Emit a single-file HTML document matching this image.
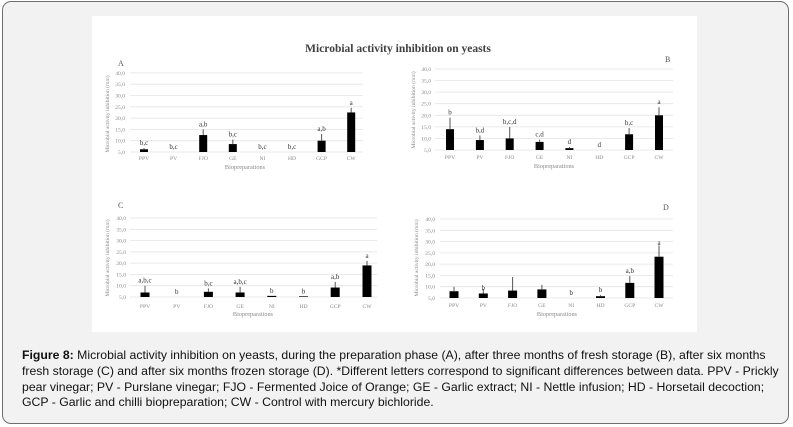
<!DOCTYPE html>
<html><head><meta charset="utf-8"><style>
html,body{margin:0;padding:0;width:793px;height:427px;overflow:hidden;background:#fff}
.frame{position:absolute;left:2px;top:1px;width:785px;height:421px;border:1.3px solid #6f6f6f;border-radius:9px;background:#f2f2f2}
.cap{position:absolute;left:22px;top:348px;font:12.25px/15.8px "Liberation Sans",Arial,sans-serif;color:#111;white-space:nowrap}
svg{position:absolute;left:0;top:0}
.t{font-family:"Liberation Serif",serif;font-size:5.6px;fill:#8a8a8a}
.l{font-family:"Liberation Serif",serif;font-size:7px;fill:#333;text-anchor:middle}
.g{stroke:#e3e3e3;stroke-width:0.8}
</style></head><body>
<div class="frame"></div>
<div class="cap"><b>Figure 8:</b> Microbial activity inhibition on yeasts, during the preparation phase (A), after three months of fresh storage (B), after six months<br>fresh storage (C) and after six months frozen storage (D). *Different letters correspond to significant differences between data. PPV - Prickly<br>pear vinegar; PV - Purslane vinegar; FJO - Fermented Joice of Orange; GE - Garlic extract; NI - Nettle infusion; HD - Horsetail decoction;<br>GCP - Garlic and chilli biopreparation; CW - Control with mercury bichloride.</div>
<svg width="793" height="427" viewBox="0 0 793 427">
<rect x="92" y="16" width="605" height="316" fill="#fff"/>
<text x="398" y="52" text-anchor="middle" font-family="Liberation Serif,serif" font-size="11.5" fill="#404040" font-weight="bold">Microbial activity inhibition on yeasts</text>

<!-- A -->
<text x="118" y="66" font-family="Liberation Serif,serif" font-size="8" fill="#555">A</text>
<g class="g"><line x1="130" x2="363" y1="152" y2="152"/><line x1="130" x2="363" y1="140.7" y2="140.7"/><line x1="130" x2="363" y1="129.4" y2="129.4"/><line x1="130" x2="363" y1="118.1" y2="118.1"/><line x1="130" x2="363" y1="106.8" y2="106.8"/><line x1="130" x2="363" y1="95.5" y2="95.5"/><line x1="130" x2="363" y1="84.2" y2="84.2"/><line x1="130" x2="363" y1="72.9" y2="72.9"/></g>
<g class="t" text-anchor="end"><text x="125" y="154">5,0</text><text x="125" y="142.7">10,0</text><text x="125" y="131.4">15,0</text><text x="125" y="120.1">20,0</text><text x="125" y="108.8">25,0</text><text x="125" y="97.5">30,0</text><text x="125" y="86.2">35,0</text><text x="125" y="74.9">40,0</text></g>
<text class="t" transform="translate(109,114) rotate(-90)" text-anchor="middle">Microbial activity inhibition (mm)</text>
<g transform="translate(0,163.3) scale(1,-2.26)" fill="#000" stroke="#555">
<rect x="140" y="5" width="8" height="1.2" stroke="none"/><line x1="144" x2="144" y1="6.2" y2="6.7" vector-effect="non-scaling-stroke"/>
<rect x="199.2" y="5" width="8" height="7.5" stroke="none"/><line x1="203.2" x2="203.2" y1="12.5" y2="15" vector-effect="non-scaling-stroke"/>
<rect x="228.8" y="5" width="8" height="3.5" stroke="none"/><line x1="232.8" x2="232.8" y1="8.5" y2="10.5" vector-effect="non-scaling-stroke"/>
<rect x="317.6" y="5" width="8" height="5" stroke="none"/><line x1="321.6" x2="321.6" y1="10" y2="13" vector-effect="non-scaling-stroke"/>
<rect x="347.2" y="5" width="8" height="17.5" stroke="none"/><line x1="351.2" x2="351.2" y1="22.5" y2="24.5" vector-effect="non-scaling-stroke"/>
</g>
<g class="l"><text x="144" y="145.2">b,c</text><text x="173.6" y="149">b,c</text><text x="203.2" y="126.4">a,b</text><text x="232.8" y="136.6">b,c</text><text x="262.4" y="149">b,c</text><text x="292" y="149">b,c</text><text x="321.6" y="130.9">a,b</text><text x="351.2" y="104.9">a</text></g>
<g class="t" text-anchor="middle"><text x="144" y="160">PPV</text><text x="173.6" y="160">PV</text><text x="203.2" y="160">FJO</text><text x="232.8" y="160">GE</text><text x="262.4" y="160">NI</text><text x="292" y="160">HD</text><text x="321.6" y="160">GCP</text><text x="351.2" y="160">CW</text><text x="245" y="169" font-size="6.3">Biopreparations</text></g>

<!-- B -->
<text x="665" y="62" font-family="Liberation Serif,serif" font-size="8" fill="#555">B</text>
<g class="g"><line x1="435" x2="673" y1="150" y2="150"/><line x1="435" x2="673" y1="138.4" y2="138.4"/><line x1="435" x2="673" y1="126.9" y2="126.9"/><line x1="435" x2="673" y1="115.3" y2="115.3"/><line x1="435" x2="673" y1="103.7" y2="103.7"/><line x1="435" x2="673" y1="92.1" y2="92.1"/><line x1="435" x2="673" y1="80.6" y2="80.6"/><line x1="435" x2="673" y1="69" y2="69"/></g>
<g class="t" text-anchor="end"><text x="431" y="152">5,0</text><text x="431" y="140.4">10,0</text><text x="431" y="128.9">15,0</text><text x="431" y="117.3">20,0</text><text x="431" y="105.7">25,0</text><text x="431" y="94.1">30,0</text><text x="431" y="82.6">35,0</text><text x="431" y="71">40,0</text></g>
<text class="t" transform="translate(415,110) rotate(-90)" text-anchor="middle">Microbial activity inhibition (mm)</text>
<g transform="translate(0,161.57) scale(1,-2.314)" fill="#000" stroke="#555">
<rect x="446" y="5" width="8" height="9" stroke="none"/><line x1="450" x2="450" y1="14" y2="19" vector-effect="non-scaling-stroke"/>
<rect x="475.9" y="5" width="8" height="4.3" stroke="none"/><line x1="479.9" x2="479.9" y1="9.3" y2="11.3" vector-effect="non-scaling-stroke"/>
<rect x="505.7" y="5" width="8" height="5" stroke="none"/><line x1="509.7" x2="509.7" y1="10" y2="15" vector-effect="non-scaling-stroke"/>
<rect x="535.6" y="5" width="8" height="3.5" stroke="none"/><line x1="539.6" x2="539.6" y1="8.5" y2="9.5" vector-effect="non-scaling-stroke"/>
<rect x="565.4" y="5" width="8" height="0.8" stroke="none"/><line x1="569.4" x2="569.4" y1="5.8" y2="6.3" vector-effect="non-scaling-stroke"/>
<rect x="625.1" y="5" width="8" height="6.8" stroke="none"/><line x1="629.1" x2="629.1" y1="11.8" y2="14.5" vector-effect="non-scaling-stroke"/>
<rect x="655" y="5" width="8" height="15" stroke="none"/><line x1="659" x2="659" y1="20" y2="23.5" vector-effect="non-scaling-stroke"/>
</g>
<g class="l"><text x="450" y="114.6">b</text><text x="479.9" y="132.4">b,d</text><text x="509.7" y="123.9">b,c,d</text><text x="539.6" y="136.6">c,d</text><text x="569.4" y="144">d</text><text x="599.3" y="147">d</text><text x="629.1" y="125">b,c</text><text x="659" y="104.2">a</text></g>
<g class="t" text-anchor="middle"><text x="450" y="159">PPV</text><text x="479.9" y="159">PV</text><text x="509.7" y="159">FJO</text><text x="539.6" y="159">GE</text><text x="569.4" y="159">NI</text><text x="599.3" y="159">HD</text><text x="629.1" y="159">GCP</text><text x="659" y="159">CW</text><text x="554" y="168" font-size="6.3">Biopreparations</text></g>

<!-- C -->
<text x="118" y="208" font-family="Liberation Serif,serif" font-size="8" fill="#555">C</text>
<g class="g"><line x1="130" x2="377" y1="297" y2="297"/><line x1="130" x2="377" y1="285.7" y2="285.7"/><line x1="130" x2="377" y1="274.4" y2="274.4"/><line x1="130" x2="377" y1="263.1" y2="263.1"/><line x1="130" x2="377" y1="251.9" y2="251.9"/><line x1="130" x2="377" y1="240.6" y2="240.6"/><line x1="130" x2="377" y1="229.3" y2="229.3"/><line x1="130" x2="377" y1="218" y2="218"/></g>
<g class="t" text-anchor="end"><text x="126" y="299">5,0</text><text x="126" y="287.7">10,0</text><text x="126" y="276.4">15,0</text><text x="126" y="265.1">20,0</text><text x="126" y="253.9">25,0</text><text x="126" y="242.6">30,0</text><text x="126" y="231.3">35,0</text><text x="126" y="220">40,0</text></g>
<text class="t" transform="translate(109,258) rotate(-90)" text-anchor="middle">Microbial activity inhibition (mm)</text>
<g transform="translate(0,308.29) scale(1,-2.257)" fill="#000" stroke="#555">
<rect x="140.5" y="5" width="9" height="2" stroke="none"/><line x1="145" x2="145" y1="7" y2="10" vector-effect="non-scaling-stroke"/>
<rect x="203.9" y="5" width="9" height="2.3" stroke="none"/><line x1="208.4" x2="208.4" y1="7.3" y2="8.8" vector-effect="non-scaling-stroke"/>
<rect x="235.6" y="5" width="9" height="2" stroke="none"/><line x1="240.1" x2="240.1" y1="7" y2="9.5" vector-effect="non-scaling-stroke"/>
<rect x="267.3" y="5" width="9" height="0.5" stroke="none"/>
<rect x="299" y="5" width="9" height="0.3" stroke="none"/>
<rect x="330.7" y="5" width="9" height="4.2" stroke="none"/><line x1="335.2" x2="335.2" y1="9.2" y2="11.7" vector-effect="non-scaling-stroke"/>
<rect x="362.5" y="5" width="9" height="14" stroke="none"/><line x1="367" x2="367" y1="19" y2="21" vector-effect="non-scaling-stroke"/>
</g>
<g class="l"><text x="145" y="282.7">a,b,c</text><text x="176.7" y="294">b</text><text x="208.4" y="285.4">b,c</text><text x="240.1" y="283.8">a,b,c</text><text x="271.8" y="292.9">b</text><text x="303.5" y="293.3">b</text><text x="335.2" y="278.9">a,b</text><text x="367" y="257.9">a</text></g>
<g class="t" text-anchor="middle"><text x="145" y="308">PPV</text><text x="176.7" y="308">PV</text><text x="208.4" y="308">FJO</text><text x="240.1" y="308">GE</text><text x="271.8" y="308">NI</text><text x="303.5" y="308">HD</text><text x="335.2" y="308">GCP</text><text x="367" y="308">CW</text><text x="253" y="316" font-size="6.3">Biopreparations</text></g>

<!-- D -->
<text x="663" y="210" font-family="Liberation Serif,serif" font-size="8" fill="#555">D</text>
<g class="g"><line x1="440" x2="673" y1="298" y2="298"/><line x1="440" x2="673" y1="286.7" y2="286.7"/><line x1="440" x2="673" y1="275.4" y2="275.4"/><line x1="440" x2="673" y1="264.1" y2="264.1"/><line x1="440" x2="673" y1="252.9" y2="252.9"/><line x1="440" x2="673" y1="241.6" y2="241.6"/><line x1="440" x2="673" y1="230.3" y2="230.3"/><line x1="440" x2="673" y1="219" y2="219"/></g>
<g class="t" text-anchor="end"><text x="435" y="300">5,0</text><text x="435" y="288.7">10,0</text><text x="435" y="277.4">15,0</text><text x="435" y="266.1">20,0</text><text x="435" y="254.9">25,0</text><text x="435" y="243.6">30,0</text><text x="435" y="232.3">35,0</text><text x="435" y="221">40,0</text></g>
<text class="t" transform="translate(418,258) rotate(-90)" text-anchor="middle">Microbial activity inhibition (mm)</text>
<g transform="translate(0,309.29) scale(1,-2.257)" fill="#000" stroke="#555">
<rect x="449.5" y="5" width="9" height="3" stroke="none"/><line x1="454" x2="454" y1="8" y2="10" vector-effect="non-scaling-stroke"/>
<rect x="478.8" y="5" width="9" height="2" stroke="none"/><line x1="483.3" x2="483.3" y1="7" y2="9" vector-effect="non-scaling-stroke"/>
<rect x="508.1" y="5" width="9" height="3.3" stroke="none"/><line x1="512.6" x2="512.6" y1="8.3" y2="14.3" vector-effect="non-scaling-stroke"/>
<rect x="537.4" y="5" width="9" height="3.8" stroke="none"/><line x1="541.9" x2="541.9" y1="8.8" y2="10.8" vector-effect="non-scaling-stroke"/>
<rect x="596" y="5" width="9" height="0.8" stroke="none"/><line x1="600.5" x2="600.5" y1="5.8" y2="6.3" vector-effect="non-scaling-stroke"/>
<rect x="625.3" y="5" width="9" height="6.7" stroke="none"/><line x1="629.8" x2="629.8" y1="11.7" y2="14.7" vector-effect="non-scaling-stroke"/>
<rect x="654.5" y="5" width="9" height="18.3" stroke="none"/><line x1="659" x2="659" y1="23.3" y2="28.3" vector-effect="non-scaling-stroke"/>
</g>
<g class="l"><text x="483.3" y="290">b</text><text x="571.2" y="295">b</text><text x="600.5" y="292">b</text><text x="629.8" y="273.1">a,b</text><text x="659" y="245">a</text></g>
<g class="t" text-anchor="middle"><text x="454" y="307">PPV</text><text x="483.3" y="307">PV</text><text x="512.6" y="307">FJO</text><text x="541.9" y="307">GE</text><text x="571.2" y="307">NI</text><text x="600.5" y="307">HD</text><text x="629.8" y="307">GCP</text><text x="659" y="307">CW</text><text x="557" y="316" font-size="6.3">Biopreparations</text></g>
</svg>
</body></html>
